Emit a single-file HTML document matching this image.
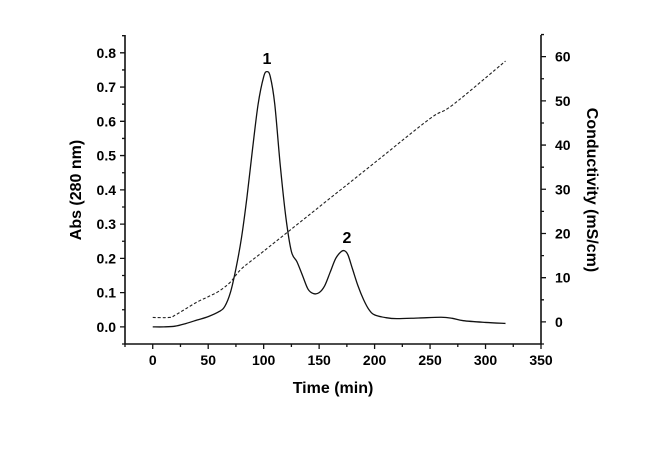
<!DOCTYPE html>
<html><head><meta charset="utf-8"><style>
body{margin:0;background:#fff;width:650px;height:458px;overflow:hidden}
svg{display:block;font-family:"Liberation Sans",Arial,sans-serif}
</style></head><body>
<svg width="650" height="458" id="c">
<g id="axes"></g>
<path id="abs-line" fill="none" stroke="#111" stroke-width="1.3"/>
<path id="cond-line" fill="none" stroke="#222" stroke-width="1.1" stroke-dasharray="3,2"/>
<text x="267" y="64" font-size="16" font-weight="bold" text-anchor="middle">1</text>
<text x="347" y="243" font-size="16" font-weight="bold" text-anchor="middle">2</text>
<text x="333" y="393" font-size="16" font-weight="bold" text-anchor="middle">Time (min)</text>
<text transform="translate(81,190) rotate(-90)" font-size="16" font-weight="bold" text-anchor="middle">Abs (280 nm)</text>
<text transform="translate(587,190) rotate(90)" font-size="16" font-weight="bold" text-anchor="middle">Conductivity (mS/cm)</text>
</svg>
<script>
const absTime=[0,10,20,30,40,50,60,65,70,75,80,85,90,95,100,103,106,110,115,120,125,130,135,140,145,150,155,160,165,170,173,176,180,185,190,195,200,210,220,240,260,270,280,300,318];
const absValues=[0,0,0.002,0.01,0.02,0.03,0.045,0.06,0.1,0.17,0.26,0.38,0.52,0.65,0.73,0.745,0.73,0.65,0.47,0.32,0.22,0.19,0.15,0.11,0.097,0.1,0.12,0.16,0.2,0.22,0.222,0.21,0.17,0.12,0.08,0.05,0.035,0.027,0.024,0.026,0.028,0.025,0.018,0.013,0.01];
const condTime=[0,15,20,30,40,50,60,70,80,100,150,200,250,270,318];
const condValues=[1,1,1.5,3,4.5,5.7,7,9,12,16,26,36,46,49,59];
const xTicks=[0,50,100,150,200,250,300,350];
const yLeftTicks=[0.0,0.1,0.2,0.3,0.4,0.5,0.6,0.7,0.8];
const yRightTicks=[0,10,20,30,40,50,60];
const X0=125,X1=541,Y0=344,Y1=35;
const x=t=>X0+(t+25)/375*(X1-X0);
const yL=v=>Y0-(v+0.05)/0.902*(Y0-Y1);
const yR=v=>Y0-(v+5)/69.9*(Y0-Y1);
const NS="http://www.w3.org/2000/svg";
const ax=document.getElementById('axes');
function el(tag,attrs,parent){const e=document.createElementNS(NS,tag);for(const k in attrs)e.setAttribute(k,attrs[k]);(parent||ax).appendChild(e);return e;}
const lines=el('path',{d:`M${X0},${Y1}V${Y0}H${X1}V${Y1}`,fill:'none',stroke:'#111','stroke-width':1.6});


let d='';
for(let t=-25;t<=350;t+=25){const p=x(t);d+=`M${p},${Y0}v${t%50===0?5:3}`;}
for(let v=-0.05;v<=0.851;v+=0.05){const p=yL(v);d+=`M${X0},${p}h${Math.abs(Math.round(v*20))%2===0?-5:-3}`;}
for(let v=-5;v<=65;v+=5){const p=yR(v);d+=`M${X1},${p}h${v%10===0?5:3}`;}
const tk=el('path',{d,stroke:'#111','stroke-width':1.3});


xTicks.forEach(t=>{const e=el('text',{x:x(t),y:Y0+21,'font-size':14,'font-weight':'bold','text-anchor':'middle'});e.textContent=t;

});
yLeftTicks.forEach(v=>{const e=el('text',{x:X0-9,y:yL(v)+5,'font-size':14,'font-weight':'bold','text-anchor':'end'});e.textContent=v.toFixed(1);

});
yRightTicks.forEach(v=>{const e=el('text',{x:X1+14,y:yR(v)+5,'font-size':14,'font-weight':'bold','text-anchor':'start'});e.textContent=v;

});
function smooth(xs,ys){const p=xs.map((t,i)=>[t,ys[i]]);let s=`M${p[0][0]},${p[0][1]}`;
for(let i=0;i<p.length-1;i++){const a=p[i-1]||p[i],b=p[i],c=p[i+1],e=p[i+2]||c;
s+=`C${b[0]+(c[0]-a[0])/6},${b[1]+(c[1]-a[1])/6} ${c[0]-(e[0]-b[0])/6},${c[1]-(e[1]-b[1])/6} ${c[0]},${c[1]}`;}return s;}
document.getElementById('abs-line').setAttribute('d',smooth(absTime.map(x),absValues.map(yL)));
document.getElementById('cond-line').setAttribute('d',smooth(condTime.map(x),condValues.map(yR)));
</script>
</body></html>
